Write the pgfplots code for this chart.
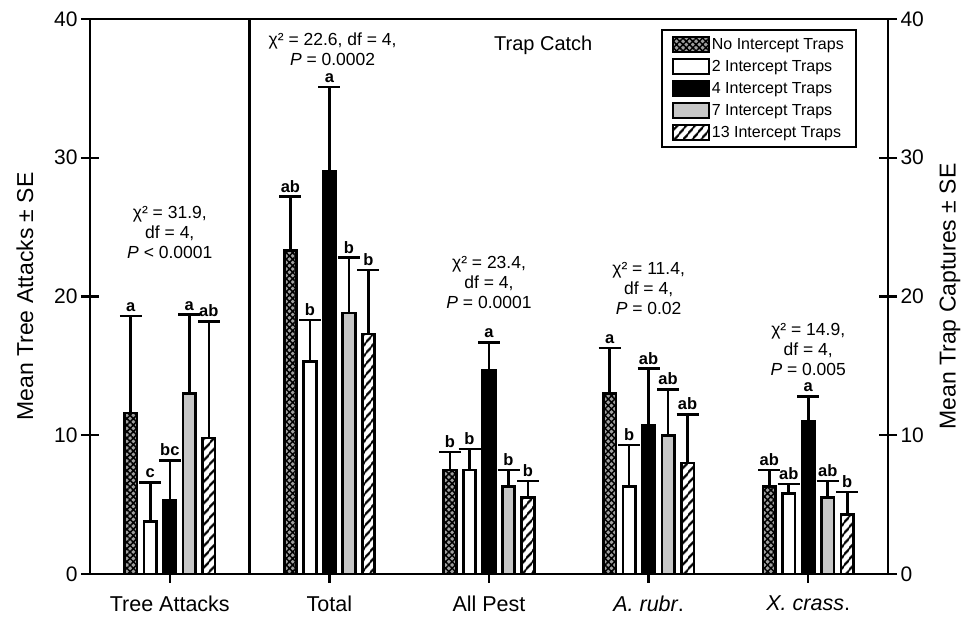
\documentclass[border=0pt]{standalone}
\usepackage{fontspec}
\setmainfont{Liberation Sans}
\usepackage{pgfplots}
\usepackage{pgfplotstable}
\pgfplotsset{compat=1.18}
\usetikzlibrary{patterns.meta}

\definecolor{lgray}{HTML}{C6C6C6}
\definecolor{mgray}{HTML}{A0A0A0}

\pgfplotstableread{
x y e l
0 11.6 7.0 a
1 23.3 3.9 ab
2 7.5 1.3 b
3 13.0 3.3 a
4 6.3 1.2 ab
}\tnone
\pgfplotstableread{
x y e l
0 3.8 2.8 c
1 15.3 3.0 b
2 7.5 1.5 b
3 6.3 3.0 b
4 5.8 0.7 ab
}\ttwo
\pgfplotstableread{
x y e l
0 5.3 2.9 bc
1 29.0 6.1 a
2 14.7 2.0 a
3 10.7 4.1 ab
4 11.0 1.8 a
}\tfour
\pgfplotstableread{
x y e l
0 13.0 5.7 a
1 18.8 4.0 b
2 6.3 1.2 b
3 10.0 3.3 ab
4 5.5 1.2 ab
}\tseven
\pgfplotstableread{
x y e l
0 9.8 8.4 ab
1 17.3 4.6 b
2 5.5 1.2 b
3 8.0 3.5 ab
4 4.3 1.6 b
}\tthirteen

\pgfplotsset{
  myerr/.style={
    draw=black, line width=2.7pt,
    legend image code/.code={\draw[##1, line width=2.2pt] (0pt,-7pt) rectangle (36pt,8pt);},
    nodes near coords, point meta=explicit symbolic,
    visualization depends on={\thisrow{e} \as \err},
    every node near coord/.append style={font=\bfseries\fontsize{16.5}{16.5}\selectfont, anchor=south,
      yshift=\err*13.875pt+1pt, inner sep=2pt, text=black},
    error bars/.cd, y dir=plus, y explicit,
    error bar style={line width=2.6pt, black, solid},
    error mark options={rotate=90, line width=2.6pt, mark size=11pt, black, solid}},
}

\newcommand{\anno}{\fontsize{17.5}{20}\selectfont}

\begin{document}
\begin{tikzpicture}
\path[use as bounding box] (-90pt,-43pt) rectangle (878pt,574pt);
\begin{axis}[
  at={(0pt,0pt)}, anchor=south west,
  width=798pt, height=555pt, scale only axis,
  ybar=7pt, bar width=12.5pt,
  xmin=-0.5, xmax=4.5, ymin=0, ymax=40,
  xtick={0,1,2,3,4},
  xticklabels={Tree Attacks, Total, All Pest, \textit{A. rubr}., \textit{X. crass}.},
  ytick={0,10,20,30,40},
  xtick pos=bottom, ytick pos=left,
  tick align=outside, major tick length=9pt,
  ytick style={draw=none},
  every tick/.style={black, line width=2.4pt},
  axis line style={black, line width=2.4pt},
  /pgf/number format/assume math mode=true,
  tick label style={font=\fontsize{21}{21}\selectfont},
  xticklabel style={font=\fontsize{21.5}{21.5}\selectfont, yshift=-9pt},
  ylabel={Mean Tree Attacks ± SE},
  ylabel style={at={(axis description cs:-0.0815,0.5)}, anchor=center, font=\fontsize{23}{23}\selectfont},
  extra x ticks={0.5}, extra x tick labels={},
  extra x tick style={grid=major, major grid style={draw=black, line width=2.4pt}, major tick style={draw=none}},
  legend style={at={(axis description cs:0.961,0.982)}, anchor=north east, draw=black, line width=2.2pt,
    font=\fontsize{16}{16}\selectfont, inner xsep=10pt, inner ysep=6pt, row sep=4.5pt,
    /tikz/every even column/.append style={column sep=9pt}},
  legend cell align=left,
]
\addplot[fill=mgray, postaction={pattern={Hatch[angle=45,distance=4.6pt,line width=1.5pt]}}, myerr]
  table[x=x, y=y, y error=e, meta=l] {\tnone};
\addplot[fill=white, myerr] table[x=x, y=y, y error=e, meta=l] {\ttwo};
\addplot[fill=black, myerr] table[x=x, y=y, y error=e, meta=l] {\tfour};
\addplot[fill=lgray, myerr] table[x=x, y=y, y error=e, meta=l] {\tseven};
\addplot[fill=white, postaction={pattern={Lines[angle=50,distance=6.4pt,line width=2.4pt]}}, myerr]
  table[x=x, y=y, y error=e, meta=l] {\tthirteen};
\legend{No Intercept Traps, 2 Intercept Traps, 4 Intercept Traps, 7 Intercept Traps, 13 Intercept Traps}

\node[align=center, font=\anno] at (axis cs:0,24.6) {χ² = 31.9,\\df = 4,\\\textit{P} < 0.0001};
\node[align=center, font=\anno] at (axis cs:1.02,37.8) {χ² = 22.6, df = 4,\\\textit{P} = 0.0002};
\node[align=center, font=\anno] at (axis cs:2,21.0) {χ² = 23.4,\\df = 4,\\\textit{P} = 0.0001};
\node[align=center, font=\anno] at (axis cs:3,20.6) {χ² = 11.4,\\df = 4,\\\textit{P} = 0.02};
\node[align=center, font=\anno] at (axis cs:4,16.2) {χ² = 14.9,\\df = 4,\\\textit{P} = 0.005};
\node[font=\fontsize{20}{20}\selectfont] at (axis cs:2.34,38.1) {Trap Catch};
\end{axis}
\begin{axis}[
  at={(0pt,0pt)}, anchor=south west,
  width=798pt, height=555pt, scale only axis,
  xmin=-0.5, xmax=4.5, ymin=0, ymax=40,
  hide x axis,
  ytick={0,10,20,30,40},
  ytick pos=both, yticklabel pos=right,
  tick align=center, major tick length=18pt,
  every tick/.style={black, line width=2.4pt},
  axis line style={black, line width=2.4pt},
  /pgf/number format/assume math mode=true,
  tick label style={font=\fontsize{21}{21}\selectfont},
  ylabel={Mean Trap Captures ± SE},
  ylabel style={at={(axis description cs:1.0777,0.5)}, anchor=center, font=\fontsize{23}{23}\selectfont},
]
\end{axis}
\end{tikzpicture}
\end{document}
